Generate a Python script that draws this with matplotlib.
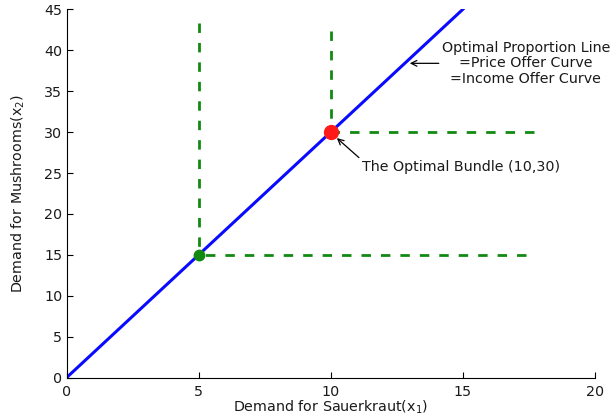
import matplotlib
matplotlib.use('Agg')
import matplotlib.pyplot as plt

plt.rcParams['font.family'] = ['DejaVu Sans']

# optimal proportion line x2 = 3*x1
line_x = [0, 15]
line_y = [0, 45]

# bundles on the line
bundle_x = [5, 10]
bundle_y = [15, 30]
bundle_colors = ['#128a12', '#ff1a1a']
bundle_sizes = [7.5, 10]

# ends of the dashed L-shaped indifference curves
vert_top = [43.3, 42.3]
horiz_end = [17.4, 17.7]

xticks = [0, 5, 10, 15, 20]
yticks = [0, 5, 10, 15, 20, 25, 30, 35, 40, 45]

fig = plt.figure(figsize=(6.12, 4.19), dpi=100)
ax = fig.add_axes([0.1087, 0.0986, 0.8635, 0.8792])

green = '#128a12'
for bx, by, top, end in zip(bundle_x, bundle_y, vert_top, horiz_end):
    # drawn from the far end so the dash pattern starts there
    ax.plot([bx, bx], [top, by], color=green, lw=2.0, dashes=(3.4, 3.6))
    ax.plot([end, bx], [by, by], color=green, lw=2.0, dashes=(3.4, 3.6))

ax.plot(line_x, line_y, color='#0a0aff', lw=2.2)

for bx, by, c, s in zip(bundle_x, bundle_y, bundle_colors, bundle_sizes):
    ax.plot(bx, by, 'o', color=c, ms=s, mec=c, zorder=5)

ax.annotate('Optimal Proportion Line\n=Price Offer Curve\n=Income Offer Curve',
            xy=(12.99, 38.4), xytext=(17.38, 38.4), ha='center', va='center',
            fontsize=10.3, linespacing=1.15, color='#1a1a1a',
            arrowprops=dict(arrowstyle='->', color='black', lw=0.9,
                            shrinkA=0, shrinkB=0, relpos=(0.0, 0.5)),
            annotation_clip=False)
ax.annotate('The Optimal Bundle (10,30)', xy=(10.23, 29.27), xytext=(14.92, 25.73),
            ha='center', va='center', fontsize=10.3, color='#1a1a1a',
            arrowprops=dict(arrowstyle='->', color='black', lw=0.9,
                            shrinkA=0, shrinkB=0, relpos=(0.0, 1.0)))

ax.set_xlim(0, 20)
ax.set_ylim(0, 45)
ax.set_xticks(xticks)
ax.set_yticks(yticks)
ax.spines['top'].set_visible(False)
ax.spines['right'].set_visible(False)
ax.tick_params(direction='in', length=4, labelsize=10.3, width=0.8,
               labelcolor='#1a1a1a')
ax.tick_params(axis='x', pad=5)
ax.tick_params(axis='y', pad=3)
ax.set_xlabel('Demand for Sauerkraut(x$_1$)', fontsize=10.3, labelpad=0,
              color='#1a1a1a')
ax.set_ylabel('Demand for Mushrooms(x$_2$)', fontsize=10.3, labelpad=12,
              color='#1a1a1a')

fig.savefig('out.png', dpi=100)
